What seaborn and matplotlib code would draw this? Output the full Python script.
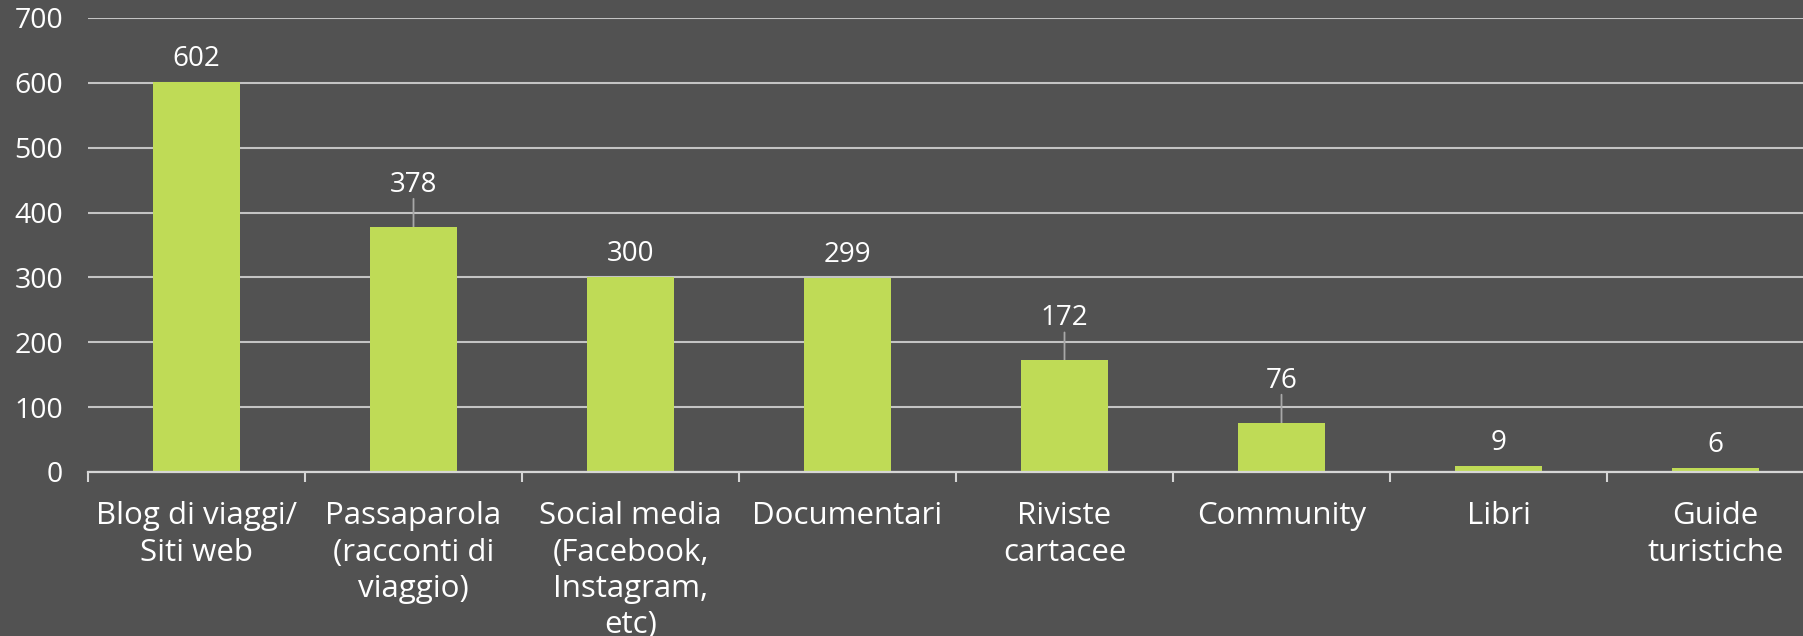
import matplotlib
matplotlib.use("Agg")
import matplotlib.pyplot as plt
import seaborn as sns
import numpy as np

# Sources of travel information (number of answers)
categories = [
    "Blog di viaggi/\nSiti web",
    "Passaparola\n(racconti di\nviaggio)",
    "Social media\n(Facebook,\nInstagram,\netc)",
    "Documentari",
    "Riviste\ncartacee",
    "Community",
    "Libri",
    "Guide\nturistiche",
]
values = [602, 378, 300, 299, 172, 76, 9, 6]
y_ticks = [0, 100, 200, 300, 400, 500, 600, 700]

# labels that sit higher and are tied to their bar by a short line
with_leader = [False, True, False, False, True, True, False, False]

BG = "#525252"
BAR = "#bfdb56"
GRID = "#c4c4c4"
AXIS = "#d6d6d6"
LEADER = "#a8a8a8"
TEXT = "#ffffff"

sns.set_theme(style="white")
plt.rcParams["font.family"] = ["Open Sans", "DejaVu Sans"]

W, H, DPI = 1803, 636, 100
fig = plt.figure(figsize=(W / DPI, H / DPI), dpi=DPI, facecolor=BG)
left_px, bottom_px, top_px = 88, 472, 18
slot_px = 217
ax = fig.add_axes([
    left_px / W,
    1 - bottom_px / H,
    len(categories) * slot_px / W,
    (bottom_px - top_px) / H,
])
ax.set_facecolor(BG)

sns.barplot(x=list(range(len(categories))), y=values, color=BAR,
            width=0.4, saturation=1, linewidth=0, ax=ax, zorder=3)

ax.set_xlim(-0.5, len(categories) - 0.5)
ax.set_ylim(0, 700)
ax.set_yticks(y_ticks)
ax.set_yticklabels([str(t) for t in y_ticks])
ax.set_xticks(range(len(categories)))
ax.set_xticklabels(categories, linespacing=1.28)
ax.set_xticks(np.arange(-0.5, len(categories) + 0.5, 1), minor=True)

for s in ("top", "right", "left"):
    ax.spines[s].set_visible(False)
ax.spines["bottom"].set_color(AXIS)
ax.spines["bottom"].set_linewidth(1.6)
ax.spines["bottom"].set_zorder(4)

ax.yaxis.grid(True, color=GRID, linewidth=1.5, zorder=0)
ax.xaxis.grid(False)
ax.set_axisbelow(True)

ax.tick_params(axis="y", length=0, pad=18, labelsize=20.5, labelcolor=TEXT)
ax.tick_params(axis="x", which="major", length=0, pad=21, labelsize=22.5,
               labelcolor=TEXT)
ax.tick_params(axis="x", which="minor", length=7.5, width=1.5, color=AXIS,
               direction="out", bottom=True)
ax.set_xlabel("")
ax.set_ylabel("")

for i, (v, lead) in enumerate(zip(values, with_leader)):
    off = 42 if lead else 23
    ax.annotate(str(v), xy=(i, v), xytext=(0, off), textcoords="offset pixels",
                ha="center", va="center", fontsize=20, color=TEXT,
                annotation_clip=False, zorder=5)
    if lead:
        ax.annotate("", xy=(i, v), xytext=(0, 28), textcoords="offset pixels",
                    arrowprops=dict(arrowstyle="-", color=LEADER, lw=1.3,
                                    shrinkA=0, shrinkB=0),
                    annotation_clip=False, zorder=2)

fig.savefig("out.png", dpi=DPI, facecolor=BG)
